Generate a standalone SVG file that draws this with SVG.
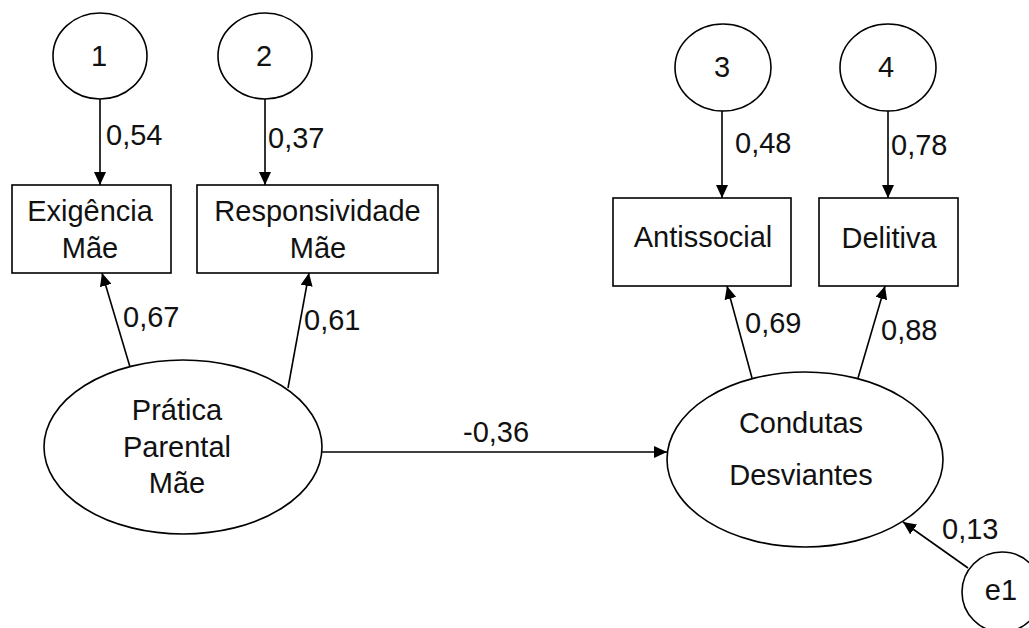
<svg xmlns="http://www.w3.org/2000/svg" width="1029" height="628" viewBox="0 0 1029 628">
<style>
.s{fill:#fff;stroke:#000;stroke-width:1.6}
.t{font-family:"Liberation Sans",Arial,sans-serif;font-size:29px;fill:#111}
.c{text-anchor:middle}
.l{stroke:#000;stroke-width:1.6;fill:none;marker-end:url(#ah)}
</style>
<defs>
<marker id="ah" markerUnits="userSpaceOnUse" markerWidth="14" markerHeight="12" refX="13" refY="6" orient="auto">
<path d="M0,0 L13,6 L0,12 Z" fill="#000"/>
</marker>
</defs>
<rect width="1029" height="628" fill="#fff"/>
<g id="connectors">
<line class="l" x1="100" y1="99" x2="100" y2="185"/>
<line class="l" x1="265" y1="99" x2="265" y2="185"/>
<line class="l" x1="722" y1="111" x2="722" y2="198"/>
<line class="l" x1="888" y1="111" x2="888" y2="198"/>
<line class="l" x1="130" y1="367" x2="102" y2="273"/>
<line class="l" x1="288" y1="388" x2="309" y2="273"/>
<line class="l" x1="752" y1="378" x2="727" y2="286"/>
<line class="l" x1="858" y1="378" x2="885" y2="286"/>
<line class="l" x1="322" y1="452" x2="667" y2="452"/>
<line class="l" x1="968" y1="568" x2="903" y2="522"/>
<text class="t" x="106" y="145">0,54</text>
<text class="t" x="268" y="148">0,37</text>
<text class="t" x="735" y="153">0,48</text>
<text class="t" x="891" y="155">0,78</text>
<text class="t" x="123" y="327">0,67</text>
<text class="t" x="304" y="330">0,61</text>
<text class="t" x="745" y="333">0,69</text>
<text class="t" x="881" y="340">0,88</text>
<text class="t" x="463" y="442">-0,36</text>
<text class="t" x="942" y="539">0,13</text>
</g>
<g id="e_1"><ellipse class="s" cx="100" cy="56" rx="47" ry="43"/><text class="t c" x="99" y="66">1</text></g>
<g id="e_2"><ellipse class="s" cx="265" cy="56" rx="47" ry="43"/><text class="t c" x="264" y="66">2</text></g>
<g id="e_3"><ellipse class="s" cx="723" cy="67.5" rx="48" ry="43.5"/><text class="t c" x="722" y="77">3</text></g>
<g id="e_4"><ellipse class="s" cx="888" cy="67.5" rx="48" ry="43.5"/><text class="t c" x="886" y="77">4</text></g>
<g id="exigencia"><rect class="s" x="12" y="185" width="159" height="88"/><text class="t c" x="90" y="221">Exigência</text><text class="t c" x="90" y="258">Mãe</text></g>
<g id="responsividade"><rect class="s" x="197" y="185" width="241" height="88"/><text class="t c" x="317.5" y="221">Responsividade</text><text class="t c" x="318" y="258">Mãe</text></g>
<g id="antissocial"><rect class="s" x="613" y="198" width="178" height="88"/><text class="t c" x="703" y="247">Antissocial</text></g>
<g id="delitiva"><rect class="s" x="819" y="198" width="139" height="88"/><text class="t c" x="889" y="248">Delitiva</text></g>
<g id="pratica"><ellipse class="s" cx="183" cy="447" rx="139" ry="87"/><text class="t c" x="177" y="420">Prática</text><text class="t c" x="177" y="457">Parental</text><text class="t c" x="177" y="493">Mãe</text></g>
<g id="condutas"><ellipse class="s" cx="805" cy="459.5" rx="138" ry="87.5"/><text class="t c" x="801" y="433">Condutas</text><text class="t c" x="801" y="485">Desviantes</text></g>
<g id="e1"><ellipse class="s" cx="1002" cy="592" rx="40" ry="40"/><text class="t c" x="1001" y="600">e1</text></g>
</svg>
